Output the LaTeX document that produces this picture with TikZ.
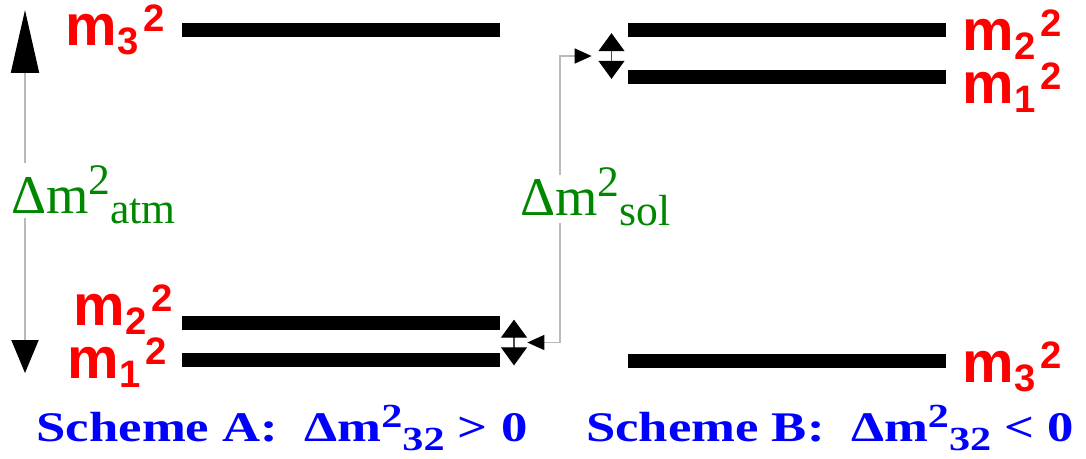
\documentclass[tikz,border=0pt]{standalone}
\usepackage{fontspec}
\setmainfont{Liberation Serif}
\setsansfont{Liberation Sans}
\usetikzlibrary{arrows.meta,positioning}

\definecolor{levelred}{RGB}{255,0,0}
\definecolor{splitgreen}{RGB}{0,135,0}
\definecolor{schemeblue}{RGB}{0,0,255}
\definecolor{linegray}{RGB}{185,185,185}

% raised / lowered indices, written one after the other
\newcommand{\hi}[2][0.7]{\raisebox{0.34em}{\scalebox{#1}{#2}}}
\newcommand{\lo}[2][0.65]{\raisebox{-0.2em}{\scalebox{#1}{#2}}}
\newcommand{\mass}[1]{m\raisebox{-0.17em}{\scalebox{0.66}{#1}}\kern0.08em\raisebox{0.24em}{\scalebox{0.66}{2}}}
\newcommand{\dmsq}[1]{Δm\hi[0.8]{2}\lo[0.8]{#1}}

\tikzset{
    bar/.style={fill=black, minimum width=6.36cm, minimum height=0.28cm, inner sep=0pt},
    mlabel/.style={text=levelred, font=\sffamily\bfseries\fontsize{33}{33}\selectfont, inner sep=0pt},
    dmlabel/.style={text=splitgreen, font=\fontsize{31}{31}\selectfont, inner sep=0pt},
    scheme/.style={text=schemeblue, font=\bfseries\fontsize{24}{24}\selectfont, inner sep=0pt},
    split/.style={minimum width=0.52cm, minimum height=0.9cm, inner sep=0pt},
    dblarrow/.style={draw=black!70, line width=0.6pt,
        {Triangle[length=0.36cm,width=0.52cm,color=black]}-{Triangle[length=0.36cm,width=0.52cm,color=black]}},
    atmline/.style={draw=linegray, line width=1.1pt},
    conn/.style={draw=linegray, line width=0.8pt, -{Triangle[length=0.34cm,width=0.3cm,color=black]}}
}

\begin{document}
\begin{tikzpicture}[x=0.02cm, y=-0.02cm]
    \useasboundingbox (0,0) rectangle (1086,458);

    % levels of scheme A
    \node[bar] (A3) at (341,30) {};
    \node[bar] (A2) at (341,323) {};
    \node[bar] (A1) at (341,360) {};
    % levels of scheme B
    \node[bar] (B2) at (787,30) {};
    \node[bar] (B1) at (787,77) {};
    \node[bar] (B3) at (787,360.5) {};

    \node[mlabel, anchor=base east] (mA3) at ([xshift=-0.34cm,yshift=-0.3cm]A3.west) {\mass{3}};
    \node[mlabel, anchor=base east] (mA2) at ([xshift=-0.18cm,yshift=-0.04cm]A2.west) {\mass{2}};
    \node[mlabel, anchor=base east] (mA1) at ([xshift=-0.3cm,yshift=-0.36cm]A1.west) {\mass{1}};
    \node[mlabel, anchor=base west] (mB2) at ([xshift=0.32cm,yshift=-0.4cm]B2.east) {\mass{2}};
    \node[mlabel, anchor=base west] (mB1) at ([xshift=0.32cm,yshift=-0.52cm]B1.east) {\mass{1}};
    \node[mlabel, anchor=base west] (mB3) at ([xshift=0.32cm,yshift=-0.43cm]B3.east) {\mass{3}};

    % small splittings
    \node[split] (dA) at (514,342.5) {};
    \node[split] (dB) at (611.5,56) {};
    \draw[dblarrow] (dA.north) -- (dA.south);
    \draw[dblarrow] (dB.north) -- (dB.south);

    % atmospheric splitting
    \node[dmlabel, anchor=base west] (atm) at (11,213) {\dmsq{atm}};
    \coordinate (atmtop) at (25,10);
    \coordinate (atmbot) at (25,373);
    \draw[atmline, -{Triangle[length=1.26cm,width=0.56cm,color=black]}, shorten <=1cm] (atm.base -| atmtop) -- (atmtop);
    \draw[atmline, -{Triangle[length=0.66cm,width=0.54cm,color=black]}, shorten <=0.1cm] (atm.base -| atmbot) -- (atmbot);

    % solar splitting
    \node[dmlabel, anchor=base west] (sol) at (520,215) {\dmsq{sol}};
    \coordinate (solbend) at (560,0);
    \draw[conn, shorten <=0.8cm, shorten >=0.13cm] (sol.base -| solbend) |- (dB.west);
    \draw[conn, shorten <=0.16cm] (sol.base -| solbend) |- (dA.east);

    % captions
    \node[scheme] (capA) at (282,428) {\scalebox{1.25}[1]{Scheme A:\ \ \dmsq{32} > 0}};
    \node[scheme] (capB) at (830,428) {\scalebox{1.25}[1]{Scheme B:\ \ \dmsq{32} < 0}};
\end{tikzpicture}
\end{document}
